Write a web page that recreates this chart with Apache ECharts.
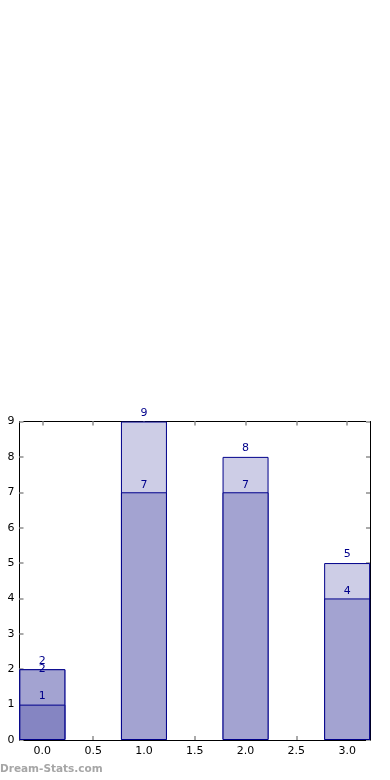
<!DOCTYPE html>
<html><head><meta charset="utf-8">
<script src="https://cdn.jsdelivr.net/npm/echarts@6/dist/echarts.min.js"></script>
<style>html,body{margin:0;padding:0;background:#fff}#c{width:390px;height:780px}</style>
</head><body><div id="c"></div>
<script>
const categories = [0, 1, 2, 3];
const lightValues = [2, 9, 8, 5];
const mediumValues = [2, 7, 7, 4];
const darkValues = [1, null, null, null];
const xTicks = [0, 0.5, 1, 1.5, 2, 2.5, 3];
const yTicks = [0, 1, 2, 3, 4, 5, 6, 7, 8, 9];

const font = 'DejaVu Sans';
const edge = '#00008b';
function mk(vals, color, dist, z, itemLabel) {
  return {
    type: 'bar', barWidth: 46, barGap: '-100%', z: z,
    data: categories.map((c, i) => {
      if (vals[i] == null) return null;
      const d = { value: [c, vals[i]] };
      if (itemLabel && itemLabel[i]) d.label = itemLabel[i];
      return d;
    }),
    itemStyle: { color: color, borderColor: edge, borderWidth: 1 },
    label: { show: true, position: 'top', distance: dist, color: edge, fontFamily: font, fontSize: 11 },
    emphasis: { disabled: true }, animation: false
  };
}
const chart = echarts.init(document.getElementById('c'));
const tickStyle = { show: true, inside: true, length: 4, lineStyle: { color: '#aaa', width: 2 } };
const axLine = { show: true, onZero: false, lineStyle: { color: '#000', width: 1 } };
chart.setOption({
  animation: false,
  grid: { left: 19.5, right: 20, top: 421.5, bottom: 40 },
  xAxis: [{
    type: 'value', min: -0.225, max: 3.225,
    axisLine: axLine,
    axisTick: Object.assign({ customValues: xTicks }, tickStyle),
    axisLabel: { customValues: xTicks, formatter: v => v.toFixed(1), color: '#000', fontFamily: font, fontSize: 11, margin: 6 },
    splitLine: { show: false }
  }, {
    type: 'value', min: -0.225, max: 3.225, position: 'top',
    axisLine: axLine,
    axisTick: Object.assign({ customValues: xTicks }, tickStyle),
    axisLabel: { show: false }, splitLine: { show: false }
  }],
  yAxis: [{
    type: 'value', min: 0, max: 9, interval: 1,
    axisLine: axLine, axisTick: tickStyle,
    axisLabel: { color: '#000', fontFamily: font, fontSize: 11, margin: 5 },
    splitLine: { show: false }
  }, {
    type: 'value', min: 0, max: 9, interval: 1, position: 'right',
    axisLine: axLine, axisTick: tickStyle,
    axisLabel: { show: false }, splitLine: { show: false }
  }],
  graphic: [{ type: 'text', left: 0, top: 764, style: { text: 'Dream-Stats.com', fill: '#a6a6a6', font: 'bold 10.5px "DejaVu Sans"' } }],
  series: [
    mk(lightValues, '#cdcde6', 3, 2),
    mk(mediumValues, '#a3a3d1', 2, 3, [{ distance: -5 }]),
    mk(darkValues, '#8585c2', 3, 4)
  ]
});
</script></body></html>
